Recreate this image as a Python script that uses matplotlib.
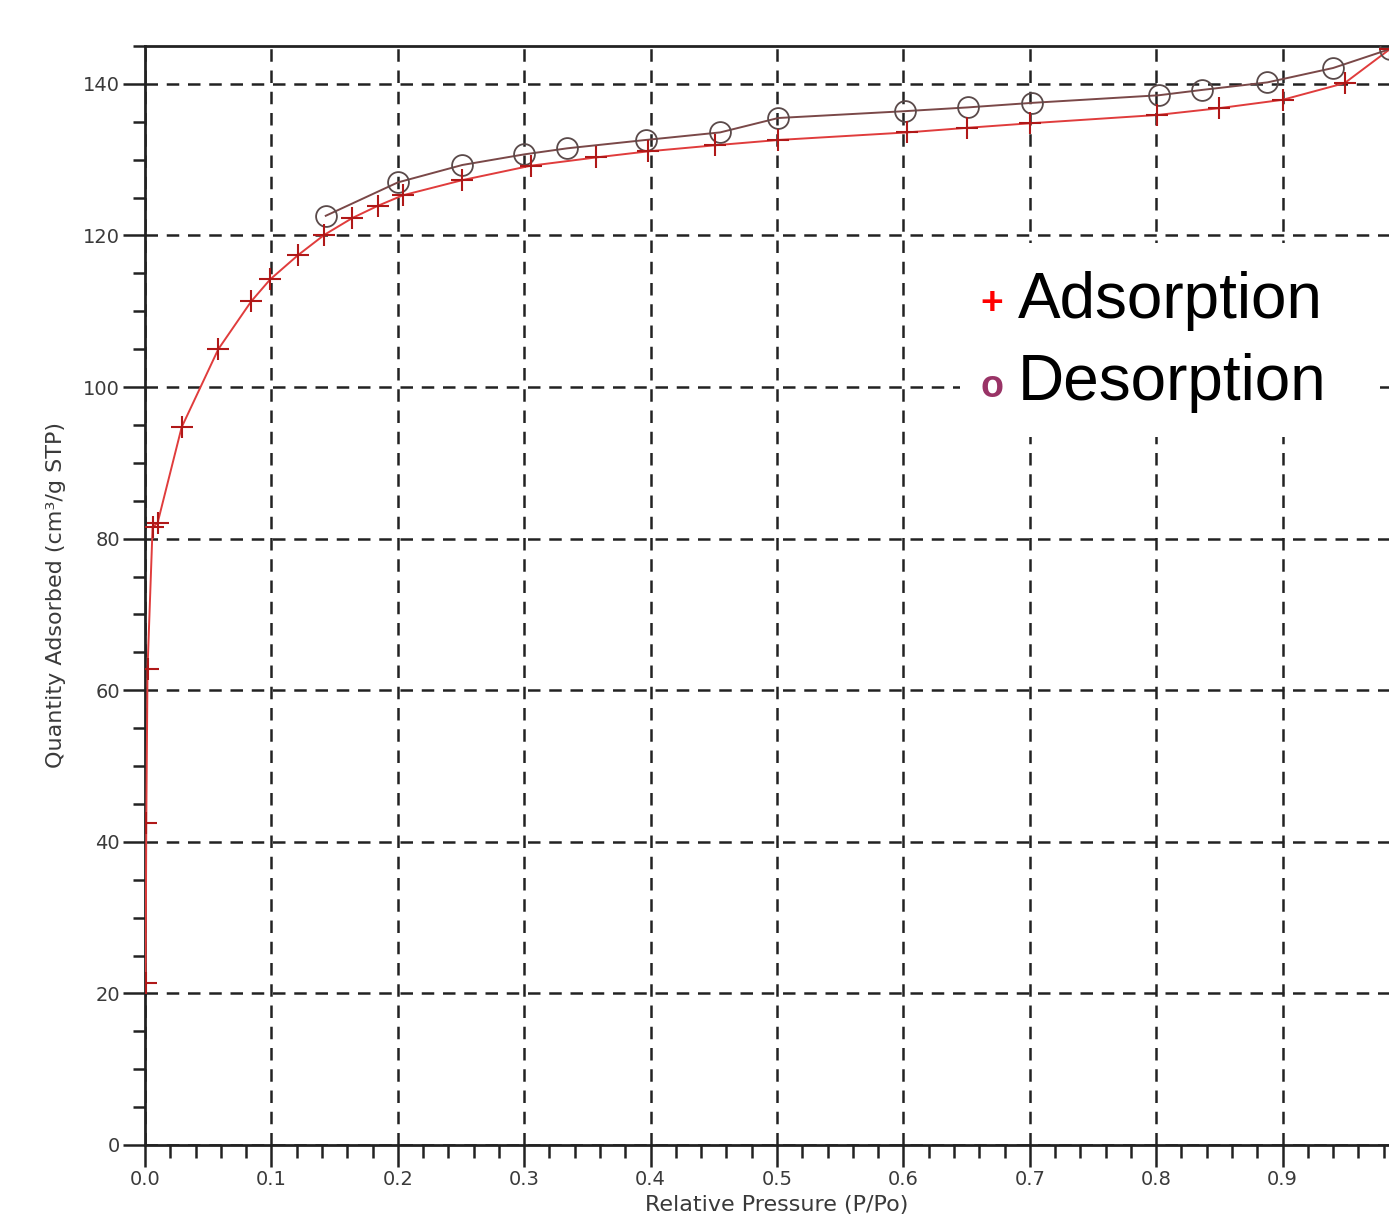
import numpy as np
import matplotlib.pyplot as plt
from matplotlib.patches import Rectangle
from matplotlib.ticker import MultipleLocator

# adsorption branch (P/Po, cm3/g STP)
ads_p = [0.0005, 0.001, 0.002, 0.006, 0.010, 0.029, 0.058, 0.084, 0.099, 0.121,
         0.142, 0.164, 0.184, 0.204, 0.251, 0.305, 0.357, 0.398, 0.451, 0.501,
         0.603, 0.650, 0.700, 0.801, 0.850, 0.900, 0.949, 0.985]
ads_q = [21.4, 42.5, 62.8, 81.5, 82.1, 94.7, 105.0, 111.3, 114.2, 117.4,
         120.1, 122.3, 123.9, 125.3, 127.3, 129.2, 130.3, 131.1, 131.9, 132.6,
         133.6, 134.2, 134.8, 135.9, 136.8, 137.9, 140.1, 144.6]

# desorption branch
des_p = [0.985, 0.940, 0.888, 0.836, 0.802, 0.702, 0.651, 0.601, 0.501, 0.455,
         0.396, 0.334, 0.300, 0.251, 0.200, 0.143]
des_q = [144.6, 142.1, 140.2, 139.2, 138.5, 137.5, 136.9, 136.4, 135.5, 133.6,
         132.6, 131.5, 130.7, 129.3, 127.0, 122.6]

fig = plt.figure(figsize=(13.89, 12.18), dpi=100)
ax = fig.add_axes([145/1389, 73/1218, 1 - 145/1389, 1099/1218])

font = 'DejaVu Sans'
txtcol = '#3a3a3a'

ax.plot(ads_p, ads_q, color='#e03c3c', lw=1.4, zorder=3)
ax.plot(ads_p, ads_q, ls='none', marker='+', ms=16, mew=1.5, color='#b01818', zorder=4)
ax.plot(des_p, des_q, color='#7a4848', lw=1.4, zorder=3,
        marker='o', ms=15, mfc='none', mec='#5a4a4a', mew=1.3)

ax.set_xlim(0, (1389 - 145) / 1264)
ax.set_ylim(0, 145)
ax.xaxis.set_minor_locator(MultipleLocator(0.02))
ax.yaxis.set_major_locator(MultipleLocator(20))
ax.yaxis.set_minor_locator(MultipleLocator(5))
ax.set_xticks(np.arange(0, 1.0, 0.1))
ax.set_xticklabels(['0.0', '0.1', '0.2', '0.3', '0.4', '0.5', '0.6', '0.7', '0.8', '0.9'])
ax.tick_params(which='major', direction='out', length=16, width=1.8, color='#222222',
               labelsize=14, labelcolor=txtcol, pad=2)
ax.tick_params(which='minor', direction='out', length=9, width=1.8, color='#222222')
for lab in ax.get_xticklabels() + ax.get_yticklabels():
    lab.set_family(font)

for s in ['left', 'bottom', 'top']:
    ax.spines[s].set_linewidth(2)
    ax.spines[s].set_color('#222222')
ax.spines['right'].set_visible(False)

ax.grid(True, which='major', color='#222222', ls=(0, (5, 3.5)), lw=1.8, zorder=1)

ax.set_xlabel('Relative Pressure (P/Po)', fontsize=16, family=font, color=txtcol,
              x=0.5 / ((1389 - 145) / 1264), labelpad=4)
ax.set_ylabel('Quantity Adsorbed (cm³/g STP)', fontsize=16, family=font, color=txtcol,
              labelpad=12)

# white label box
fig.patches.append(Rectangle((960/1389, 1 - 437/1218), 420/1389, 194/1218,
                             transform=fig.transFigure, facecolor='white',
                             edgecolor='none', zorder=5))
fig.text(992/1389, 1 - 304/1218, '+', color='#ff0000', fontsize=28, fontweight='bold',
         family='Liberation Sans', ha='center', va='center', zorder=6)
fig.text(1018/1389, 1 - 318/1218, 'Adsorption', color='black', fontsize=46,
         family='Liberation Sans', ha='left', va='baseline', zorder=6)
fig.text(992/1389, 1 - 397/1218, 'o', color='#993366', fontsize=27, fontweight='bold',
         family='Liberation Sans', ha='center', va='baseline', zorder=6)
fig.text(1018/1389, 1 - 400/1218, 'Desorption', color='black', fontsize=46,
         family='Liberation Sans', ha='left', va='baseline', zorder=6)

fig.savefig('out.png', dpi=100)
